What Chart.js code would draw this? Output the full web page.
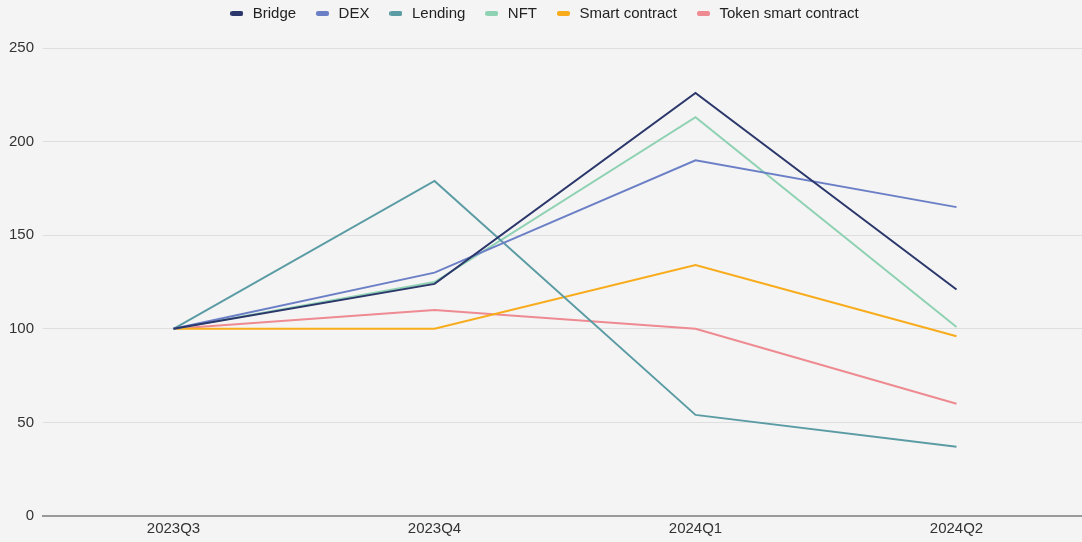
<!DOCTYPE html>
<html>
<head>
<meta charset="utf-8">
<script src="https://cdn.jsdelivr.net/npm/chart.js@4/dist/chart.umd.min.js"></script>
<style>
  html, body { margin: 0; padding: 0; background: #f4f4f4; overflow: hidden; }
  #wrap { width: 1087px; height: 554px; position: relative; margin-top: -12px; }
</style>
</head>
<body>
<div id="wrap"><canvas id="chart"></canvas></div>
<script>
// quarters on the x axis
const quarters = ['2023Q3', '2023Q4', '2024Q1', '2024Q2'];

// indexed values (2023Q3 = 100)
const bridge = [100, 124, 226, 121];
const dex = [100, 130, 190, 165];
const lending = [100, 179, 54, 37];
const nft = [100, 125, 213, 101];
const smartContract = [100, 100, 134, 96];
const tokenSmartContract = [100, 110, 100, 60];

const yTicks = [0, 50, 100, 150, 200, 250];

const FONT = { family: 'Liberation Sans', size: 15 };

// small rounded bar used as the legend marker
function legendMark(color) {
  const c = document.createElement('canvas');
  c.width = 13;
  c.height = 5;
  const g = c.getContext('2d');
  g.fillStyle = color;
  g.beginPath();
  g.roundRect(0, 0, 13, 5, 2);
  g.fill();
  return c;
}

function series(label, data, color) {
  return {
    label: label,
    data: data,
    borderColor: color,
    backgroundColor: color,
    borderWidth: 2,
    pointRadius: 0,
    pointStyle: legendMark(color),
    tension: 0
  };
}

// leave room between legend and plot
const legendGap = {
  id: 'legendGap',
  beforeInit(chart) {
    const fit = chart.legend.fit;
    chart.legend.fit = function () {
      fit.bind(chart.legend)();
      this.height = 60;
    };
  }
};

new Chart(document.getElementById('chart'), {
  type: 'line',
  data: {
    labels: quarters,
    datasets: [
      series('Bridge', bridge, '#2b376b'),
      series('DEX', dex, '#6b7fc6'),
      series('Lending', lending, '#5b9ca4'),
      series('NFT', nft, '#8fd2b3'),
      series('Smart contract', smartContract, '#f8ac1c'),
      series('Token smart contract', tokenSmartContract, '#ee8a91')
    ]
  },
  plugins: [legendGap],
  options: {
    responsive: true,
    maintainAspectRatio: false,
    animation: false,
    layout: { padding: { left: 0, right: 0, top: 0, bottom: 0 } },
    plugins: {
      legend: {
        position: 'top',
        labels: {
          font: FONT,
          color: '#222',
          usePointStyle: true,
          pointStyleWidth: 17,
          padding: 18
        }
      },
      tooltip: { enabled: false }
    },
    scales: {
      x: {
        offset: true,
        grid: { display: false, drawTicks: false },
        border: { color: '#999', width: 2 },
        ticks: { font: FONT, color: '#333', padding: 4 }
      },
      y: {
        min: yTicks[0],
        max: yTicks[yTicks.length - 1],
        afterBuildTicks: function (axis) {
          axis.ticks = yTicks.map(v => ({ value: v }));
        },
        grid: { color: '#dedede', drawTicks: false, lineWidth: 1 },
        border: { display: false },
        ticks: { font: FONT, color: '#333', padding: 9 }
      }
    }
  }
});
</script>
</body>
</html>
